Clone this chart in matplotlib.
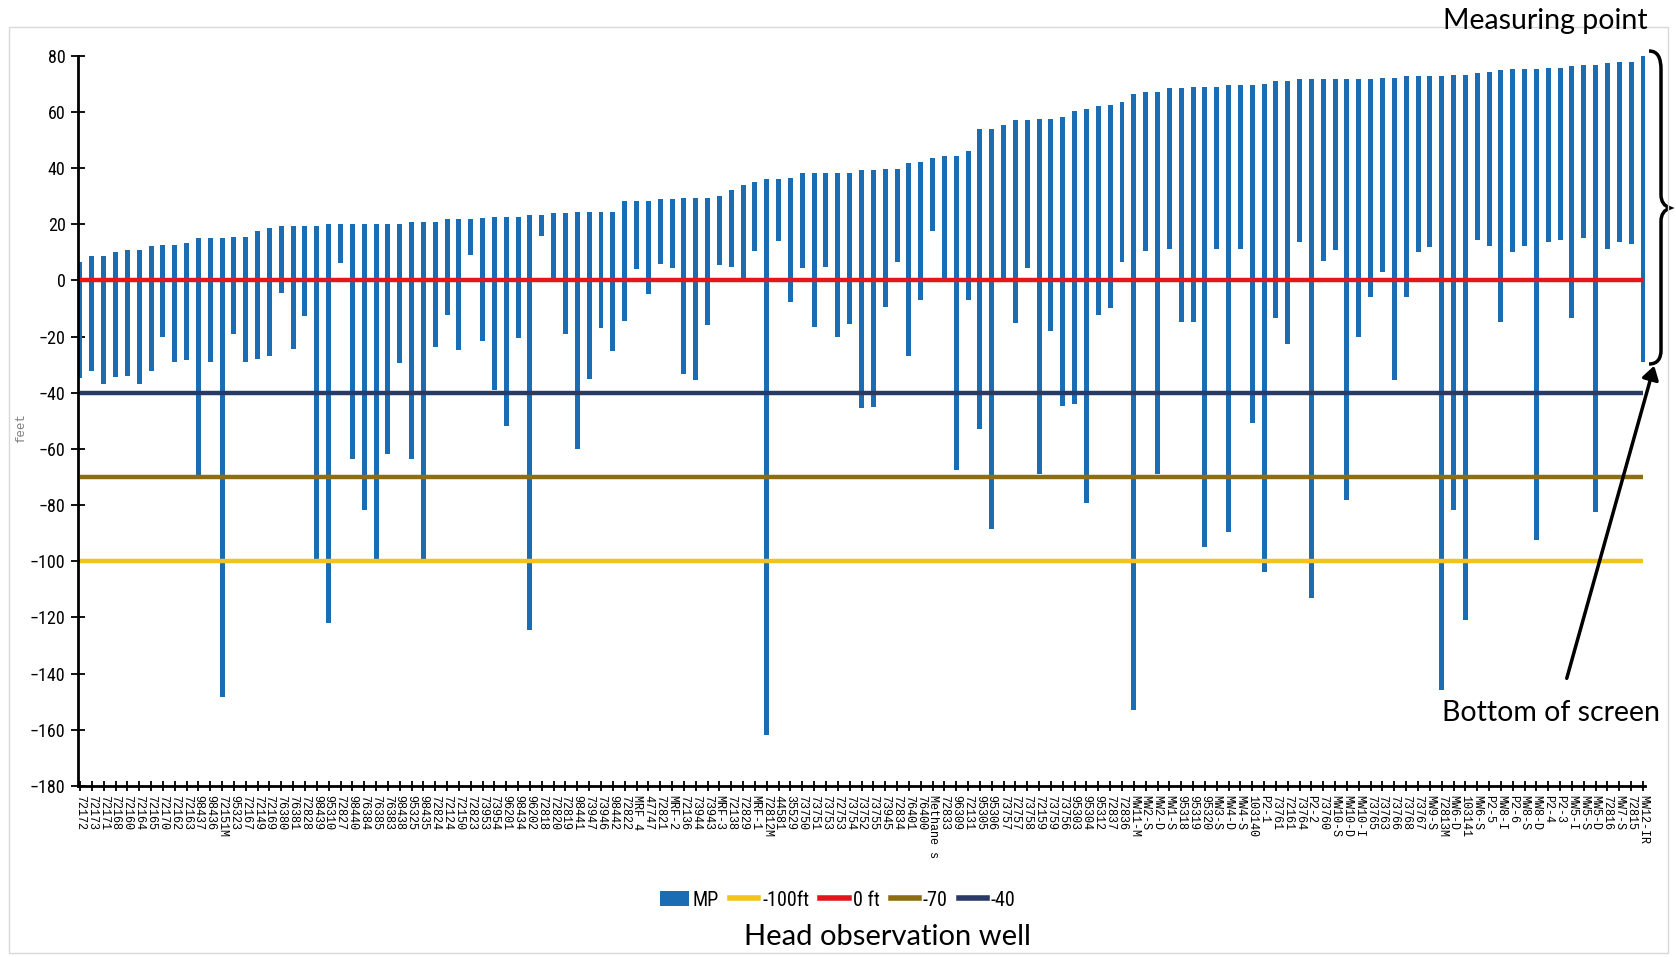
import numpy as np
import matplotlib
matplotlib.use("Agg")
from matplotlib import pyplot as plt
from matplotlib.patches import Patch, PathPatch, FancyArrowPatch, Rectangle
from matplotlib.lines import Line2D
from matplotlib.path import Path

# well names, measuring point elevation and bottom of screen (feet)
wells = ["72172", "72173", "72171", "72168", "72160", "72164", "72165", "72170", "72162", "72163",
         "98437", "98436", "72151M", "95323", "72167", "72149", "72169", "76380", "76381", "72828",
         "98439", "95310", "72827", "98440", "76384", "76385", "76383", "98438", "95325", "98435",
         "72824", "72124", "72150", "72823", "73953", "73954", "96201", "98434", "96202", "72818",
         "72820", "72819", "98441", "73947", "73946", "98442", "72822", "MRF 4", "47747", "72821",
         "MRF-2", "72136", "73944", "73943", "MRF-3", "72138", "72829", "MRF-1", "72812M", "44581",
         "35529", "73750", "73751", "73753", "72753", "73754", "73752", "73755", "73945", "72834",
         "76401", "76400", "Methane s", "72833", "96309", "72131", "95305", "95306", "73757", "72757",
         "73758", "72159", "73759", "73756", "95303", "95304", "95312", "72837", "72836", "MW11-M",
         "MW2-S", "MW2-D", "MW1-S", "95318", "95319", "95320", "MW3-S", "MW4-D", "MW4-S", "103140",
         "P2-1", "73761", "72161", "73764", "P2-2", "73760", "MW10-S", "MW10-D", "MW10-I", "73765",
         "73763", "73766", "73768", "73767", "MW9-S", "72813M", "MW6-D", "103141", "MW6-S", "P2-5",
         "MW8-I", "P2-6", "MW8-S", "MW8-D", "P2-4", "P2-3", "MW5-I", "MW5-S", "MW5-D", "72816",
         "MW7-S", "72815", "MW12-IR"]

mp = [6.5, 8.6, 8.6, 10.2, 10.7, 10.7, 12.2, 12.7, 12.7, 13.3,
      15.0, 15.0, 15.0, 15.5, 15.5, 17.6, 18.6, 19.4, 19.4, 19.4,
      19.4, 20.1, 20.1, 20.1, 20.1, 20.1, 20.1, 20.1, 20.8, 20.8,
      20.8, 21.7, 21.7, 21.7, 22.2, 22.7, 22.7, 22.7, 23.2, 23.2,
      23.8, 23.8, 24.3, 24.3, 24.3, 24.3, 28.4, 28.4, 28.4, 28.9,
      28.9, 29.4, 29.4, 29.4, 29.9, 32.0, 34.1, 35.1, 36.0, 36.0,
      36.5, 38.2, 38.2, 38.2, 38.2, 38.2, 39.2, 39.2, 39.8, 39.8,
      41.8, 42.3, 43.4, 44.4, 44.4, 46.0, 53.9, 53.9, 55.4, 57.0,
      57.0, 57.5, 57.5, 58.0, 60.4, 60.9, 62.0, 62.5, 63.5, 66.4,
      67.0, 67.0, 68.5, 68.5, 69.0, 69.0, 69.0, 69.5, 69.5, 69.5,
      69.9, 71.1, 71.1, 71.6, 71.6, 71.6, 71.6, 71.6, 71.6, 71.6,
      72.1, 72.1, 72.6, 72.6, 72.6, 72.6, 73.1, 73.1, 73.7, 74.2,
      74.7, 75.2, 75.2, 75.2, 75.7, 75.7, 76.2, 76.8, 76.8, 77.5,
      77.8, 77.8, 79.7]

screen_bottom = [-34.8, -32.2, -36.8, -34.4, -33.9, -36.8, -32.2, -20.1, -28.9, -28.4,
                 -69.2, -28.9, -148.4, -19.1, -28.9, -28.1, -27.0, -4.6, -24.3, -12.7,
                 -99.3, -122.0, 6.2, -63.7, -81.8, -99.3, -61.8, -29.4, -63.7, -99.3,
                 -23.8, -12.4, -24.8, 9.1, -21.7, -39.1, -51.8, -20.7, -124.6, 15.8,
                 1.0, -19.1, -60.2, -35.1, -17.0, -25.3, -14.6, 4.0, -5.0, 5.7,
                 4.3, -33.2, -35.6, -16.0, 5.3, 4.6, 1.0, 10.5, -161.8, 14.1,
                 -7.7, 4.5, -16.7, 4.8, -20.0, -15.5, -45.4, -45.1, -9.6, 6.4,
                 -26.9, -7.1, 17.7, 1.0, -67.6, -7.1, -52.8, -88.6, 1.0, -15.3,
                 4.5, -68.8, -18.1, -44.9, -43.9, -79.3, -12.2, -9.8, 6.4, -153.0,
                 10.5, -68.8, 11.0, -15.0, -15.0, -95.0, 11.0, -89.7, 11.0, -50.8,
                 -103.8, -13.4, -22.7, 13.8, -113.1, 6.9, 10.8, -78.3, -20.3, -6.0,
                 3.1, -35.6, -6.0, 10.0, 12.0, -145.8, -81.8, -120.8, 14.3, 12.2,
                 -15.0, 10.0, 12.2, -92.4, 13.8, 14.3, -13.4, 15.1, -82.4, 11.2,
                 13.8, 13.1, -29.1]

# reference levels
ref_levels = [-100, 0, -70, -40]
ref_names = ["-100ft", "0 ft", "-70", "-40"]
ref_colors = ["#f2c31c", "#e3171b", "#8c6d13", "#2a3a66"]

NARROW = ["Liberation Sans Narrow", "Roboto Condensed", "DejaVu Sans"]

W, H = 1676, 957
fig = plt.figure(figsize=(W / 100, H / 100), dpi=100)
ax = fig.add_axes([78 / W, 1 - 786 / H, (1645 - 78) / W, (786 - 55.6) / H])

x = np.arange(len(wells))
mp_arr = np.array(mp)
bot_arr = np.array(screen_bottom)
ax.bar(x, mp_arr - bot_arr, bottom=bot_arr, width=0.42, color="#1b6db3", zorder=2)

for lvl, col in zip(ref_levels, ref_colors):
    ax.hlines(lvl, 0, len(wells) - 1, colors=col, lw=3.2, zorder=3)

ax.set_xlim(-0.17, len(wells) - 0.83)
ax.set_ylim(-180, 80)
ax.set_yticks(np.arange(-180, 81, 20))
ax.set_xticks(x)
ax.set_xticklabels(wells, rotation=270, ha="center", va="top",
                   family=["Liberation Mono", "DejaVu Sans Mono"], fontsize=8.5)
ax.tick_params(axis="x", direction="inout", length=7, width=1.3, pad=3)
ax.tick_params(axis="y", direction="inout", length=10, width=1.3, pad=4, labelsize=13)
for lab in ax.get_yticklabels():
    lab.set_family(NARROW)
    lab.set_stretch("condensed")

for s in ["top", "right"]:
    ax.spines[s].set_visible(False)
for s in ["left", "bottom"]:
    ax.spines[s].set_linewidth(2)

fig.text(21 / W, 1 - 428 / H, "feet", rotation=90, ha="center", va="center",
         fontsize=9, color="#7f7f7f", family=["Liberation Mono", "DejaVu Sans Mono"])

# legend
handles = [Patch(facecolor="#1b6db3", label="MP")]
for name, col in zip(ref_names, ref_colors):
    handles.append(Line2D([0], [0], color=col, lw=4, label=name))
fig.legend(handles=handles, loc="center", bbox_to_anchor=(838 / W, 1 - 900 / H),
           ncol=5, frameon=False, handlelength=1.4, handletextpad=0.2, columnspacing=0.55,
           prop={"family": NARROW, "size": 14.5, "stretch": "condensed"})

fig.text(887 / W, 1 - 937 / H, "Head observation well", ha="center", va="center",
         fontsize=21, family=["Lato", "DejaVu Sans"])
fig.text(1545 / W, 1 - 21 / H, "Measuring point", ha="center", va="center",
         fontsize=20.5, family=["Lato", "DejaVu Sans"])
fig.text(1551 / W, 1 - 713 / H, "Bottom of screen", ha="center", va="center",
         fontsize=20.5, family=["Lato", "DejaVu Sans"])

# brace between measuring point and bottom of screen
def px(xp, yp):
    return (xp / W, 1 - yp / H)

verts = [px(1649, 51), px(1658, 51), px(1661, 58), px(1661, 70),
         px(1661, 195), px(1661, 205), px(1670, 208),
         px(1661, 211), px(1661, 221), px(1661, 350),
         px(1661, 358), px(1658, 364), px(1649, 364)]
codes = [Path.MOVETO, Path.CURVE4, Path.CURVE4, Path.CURVE4,
         Path.LINETO, Path.CURVE3, Path.CURVE3,
         Path.CURVE3, Path.CURVE3, Path.LINETO,
         Path.CURVE4, Path.CURVE4, Path.CURVE4]
fig.add_artist(PathPatch(Path(verts, codes), transform=fig.transFigure,
                         facecolor="none", edgecolor="black", lw=2.5))

arrow = FancyArrowPatch(px(1566, 681), px(1655, 363), transform=fig.transFigure,
                        arrowstyle="-|>,head_length=8,head_width=5", color="black", lw=2.5)
fig.add_artist(arrow)

# chart frame
fig.add_artist(Rectangle(px(9, 953), (1668 - 9) / W, (953 - 27) / H, transform=fig.transFigure,
                         facecolor="none", edgecolor="#d9d9d9", lw=1))

fig.savefig("out.png", dpi=100)
